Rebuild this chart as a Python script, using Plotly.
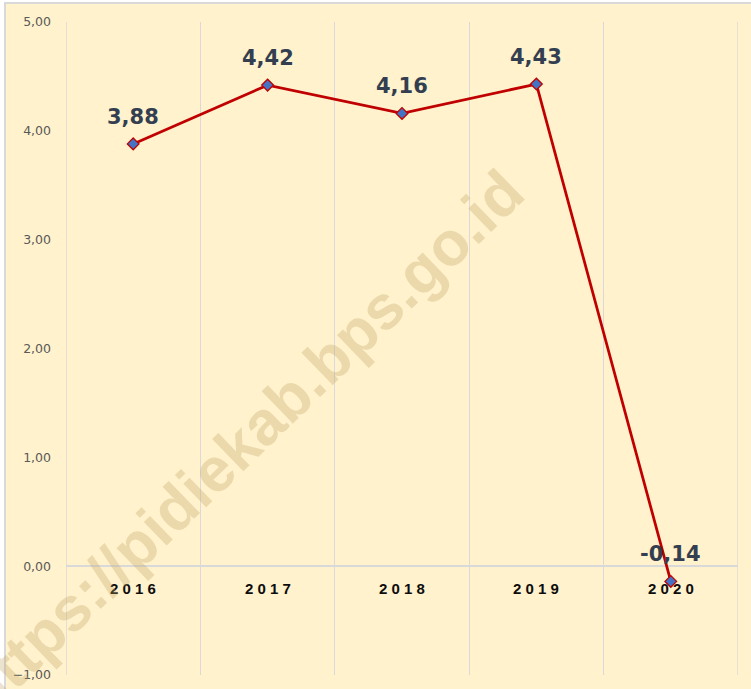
import plotly.graph_objects as go

years = ["2016", "2017", "2018", "2019", "2020"]
values = [3.88, 4.42, 4.16, 4.43, -0.14]
value_labels = ["3,88", "4,42", "4,16", "4,43", "-0,14"]
y_ticks = [-1, 0, 1, 2, 3, 4, 5]
watermark = "https://pidiekab.bps.go.id"

W, H = 751, 689
L, R, T, B = 66, 13, 22, 14
pw, ph = W - L - R, H - T - B

def px_x(x):
    return (x - L) / pw

def px_y(y):
    return (H - B - y) / ph

xs = list(range(len(years)))
x_lo, x_hi = -0.5, len(years) - 0.5

fig = go.Figure()
fig.add_trace(go.Scatter(
    x=xs, y=values, mode="lines+markers",
    line=dict(color="#C00000", width=2.75),
    marker=dict(symbol="diamond", size=9, color="#4472C4",
                line=dict(color="#C00000", width=1.3)),
    hoverinfo="skip", showlegend=False,
))

annotations = []
for i, (v, lab) in enumerate(zip(values, value_labels)):
    annotations.append(dict(x=i, y=v, xref="x", yref="y", text=lab,
                            showarrow=False, yanchor="middle", yshift=27,
                            font=dict(family="DejaVu Sans", size=21,
                                      color="#333F50", weight="bold")))
for i, yr in enumerate(years):
    annotations.append(dict(x=i, y=0, xref="x", yref="y", text=" ".join(yr),
                            showarrow=False, yanchor="middle", yshift=-22,
                            font=dict(family="Liberation Sans, Arial", size=15,
                                      color="#0D0D0D", weight="bold")))
annotations.append(dict(x=px_x(242), y=px_y(442), xref="paper", yref="paper",
                        text=watermark, showarrow=False, textangle=-44,
                        xanchor="center", yanchor="middle",
                        font=dict(family="Liberation Sans, Arial", size=62,
                                  color="rgba(190,160,100,0.30)", weight="bold")))

shapes = [dict(type="rect", xref="paper", yref="paper",
               x0=px_x(5), x1=px_x(770), y0=px_y(710), y1=px_y(3),
               fillcolor="#FFF2CC", line=dict(color="#D9D9D9", width=2),
               layer="below")]
for xe in (x_lo, x_hi):
    shapes.append(dict(type="line", xref="x", yref="paper", x0=xe, x1=xe,
                       y0=0, y1=1, line=dict(color="#D9D9D9", width=1.5),
                       layer="below"))

fig.update_layout(
    width=W, height=H,
    margin=dict(l=L, r=R, t=T, b=B, pad=0, autoexpand=False),
    paper_bgcolor="white",
    plot_bgcolor="#FFF2CC",
    separators=",.",
    annotations=annotations,
    shapes=shapes,
    xaxis=dict(range=[x_lo, x_hi], tickmode="array",
               tickvals=[0.5, 1.5, 2.5, 3.5],
               showticklabels=False, showgrid=True, gridcolor="#D9D9D9",
               gridwidth=1, zeroline=False, showline=False, ticks="",
               automargin=False),
    yaxis=dict(range=[-1, 5], tickmode="array", tickvals=y_ticks,
               tickformat=".2f", showgrid=False, zeroline=True,
               zerolinecolor="#D9D9D9", zerolinewidth=1.5,
               ticks="", ticklabelstandoff=14, automargin=False,
               tickfont=dict(family="DejaVu Sans", size=12.5, color="#595959")),
)

fig.write_html("out.html", config={"displayModeBar": False},
               post_script="document.body.style.margin='0';document.body.style.overflow='hidden';")
